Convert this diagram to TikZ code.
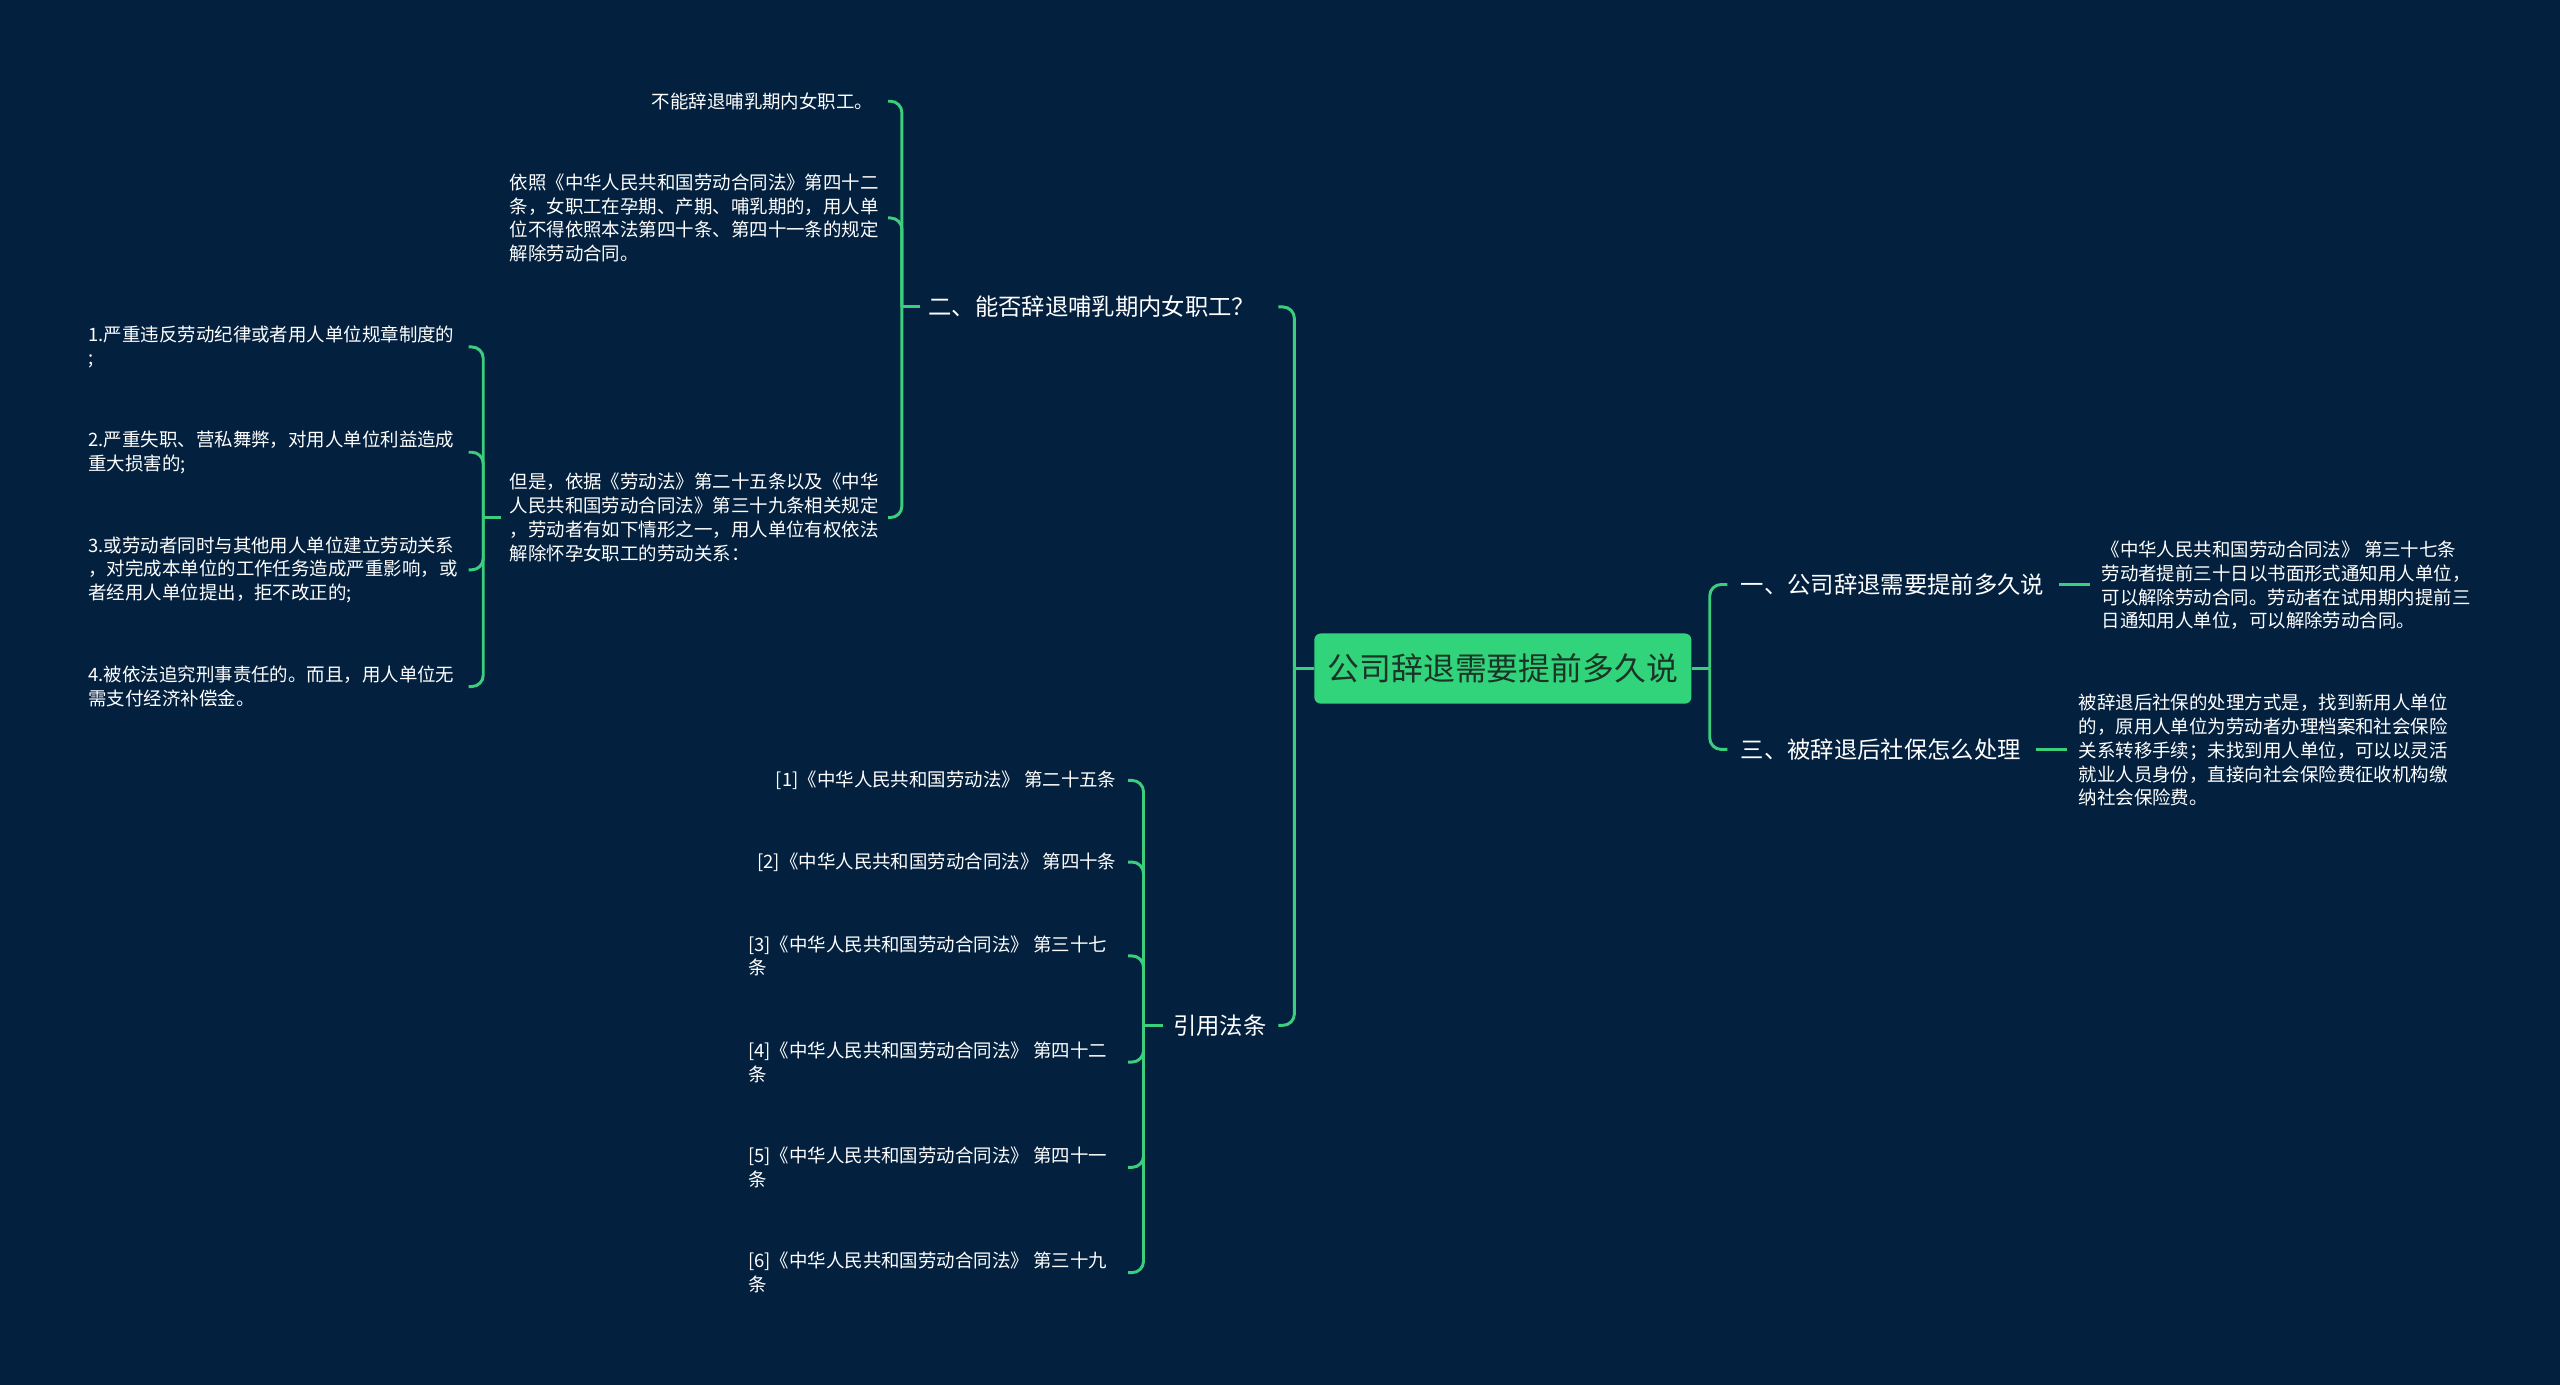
\documentclass[tikz,border=0pt]{standalone}
\usepackage{fontspec}
\setmainfont{Noto Sans CJK SC}
\definecolor{bg}{HTML}{03213F}
\definecolor{ln}{HTML}{3BCF7D}
\definecolor{rootfill}{HTML}{31D47A}
\definecolor{roottext}{HTML}{1C3328}
\begin{document}
\begin{tikzpicture}[x=1pt,y=-1pt,
  conn/.style={draw=ln, line width=1.8pt, rounded corners=7pt},
  leaf/.style={text=white, font=\fontsize{11.3}{14.6}\selectfont, inner sep=0pt, align=left},
  lvl/.style={text=white, font=\fontsize{14.3}{17}\selectfont, inner sep=0pt},
  rootbox/.style={fill=rootfill, rounded corners=4pt, text=roottext, font=\fontsize{19.5}{22}\selectfont, minimum width=231pt, minimum height=43pt, inner sep=0pt}]
\fill[bg] (0,0) rectangle (1568,848);
\useasboundingbox (0,0) rectangle (1568,848);

% root
\node[rootbox] (root) at (920.5,409.5) {公司辞退需要提前多久说};

% level 1
\node[lvl, anchor=west] (b1) at (1066,358) {一、公司辞退需要提前多久说};
\node[lvl, anchor=west] (b3) at (1066,459) {三、被辞退后社保怎么处理};
\node[lvl, anchor=east] (b2) at (769,188) {二、能否辞退哺乳期内女职工？};
\node[lvl, anchor=east] (b4) at (776,628) {引用法条};

% right paragraphs
\node[leaf, anchor=west] (p1) at (1287,358.5) {《中华人民共和国劳动合同法》 第三十七条\\劳动者提前三十日以书面形式通知用人单位，\\可以解除劳动合同。劳动者在试用期内提前三\\日通知用人单位，可以解除劳动合同。};
\node[leaf, anchor=west] (p3) at (1273,459.5) {被辞退后社保的处理方式是，找到新用人单位\\的，原用人单位为劳动者办理档案和社会保险\\关系转移手续；未找到用人单位，可以以灵活\\就业人员身份，直接向社会保险费征收机构缴\\纳社会保险费。};

% branch 二
\node[leaf, anchor=east] (a1) at (535,62) {不能辞退哺乳期内女职工。};
\node[leaf, anchor=west] (a2) at (312,133.5) {依照《中华人民共和国劳动合同法》第四十二\\条，女职工在孕期、产期、哺乳期的，用人单\\位不得依照本法第四十条、第四十一条的规定\\解除劳动合同。};
\node[leaf, anchor=west] (a3) at (312,317) {但是，依据《劳动法》第二十五条以及《中华\\人民共和国劳动合同法》第三十九条相关规定\\，劳动者有如下情形之一，用人单位有权依法\\解除怀孕女职工的劳动关系：};

\node[leaf, anchor=west] (c1) at (54,212.5) {1.严重违反劳动纪律或者用人单位规章制度的\\;};
\node[leaf, anchor=west] (c2) at (54,277) {2.严重失职、营私舞弊，对用人单位利益造成\\重大损害的;};
\node[leaf, anchor=west] (c3) at (54,349) {3.或劳动者同时与其他用人单位建立劳动关系\\，对完成本单位的工作任务造成严重影响，或\\者经用人单位提出，拒不改正的;};
\node[leaf, anchor=west] (c4) at (54,420.5) {4.被依法追究刑事责任的。而且，用人单位无\\需支付经济补偿金。};

% branch 引用法条
\node[leaf, anchor=east] (r1) at (684,478) {[1]《中华人民共和国劳动法》 第二十五条};
\node[leaf, anchor=east] (r2) at (684,528) {[2]《中华人民共和国劳动合同法》 第四十条};
\node[leaf, anchor=west] (r3) at (458,585.5) {[3]《中华人民共和国劳动合同法》 第三十七\\条};
\node[leaf, anchor=west] (r4) at (458,650.5) {[4]《中华人民共和国劳动合同法》 第四十二\\条};
\node[leaf, anchor=west] (r5) at (458,715) {[5]《中华人民共和国劳动合同法》 第四十一\\条};
\node[leaf, anchor=west] (r6) at (458,779.5) {[6]《中华人民共和国劳动合同法》 第三十九\\条};

% end x of child connectors
\coordinate (eC) at (544,0);
\coordinate (eD) at (287,0);
\coordinate (eE) at (691,0);

% root connectors
\draw[conn] (root.west) -- ++(-12,0) coordinate (sA);
\draw[conn] (sA) |- ([xshift=14pt]b2.east);
\draw[conn] (sA) |- ([xshift=7pt]b4.east);
\draw[conn] (root.east) -- ++(11,0) coordinate (sB);
\draw[conn] (sB) |- ([xshift=-8pt]b1.west);
\draw[conn] (sB) |- ([xshift=-8pt]b3.west);

% right leaves
\draw[conn] ([xshift=9pt]b1.east) -- ([xshift=-7pt]p1.west |- b1.east);
\draw[conn] ([xshift=9pt]b3.east) -- ([xshift=-7pt]p3.west |- b3.east);

% branch 二
\draw[conn] ([xshift=-5pt]b2.west) -- ++(-11,0) coordinate (sC);
\draw[conn] (sC) |- (a1.east -| eC);
\draw[conn] (sC) |- (a2.east -| eC);
\draw[conn] (sC) |- (a3.east -| eC);

% 但是 subtree
\draw[conn] ([xshift=-5pt]a3.west) -- ++(-11,0) coordinate (sD);
\draw[conn] (sD) |- (c1.east -| eD);
\draw[conn] (sD) |- (c2.east -| eD);
\draw[conn] (sD) |- (c3.east -| eD);
\draw[conn] (sD) |- (c4.east -| eD);

% 引用法条 subtree
\draw[conn] ([xshift=-6pt]b4.west) -- ++(-12,0) coordinate (sE);
\draw[conn] (sE) |- (r1.east -| eE);
\draw[conn] (sE) |- (r2.east -| eE);
\draw[conn] (sE) |- (r3.east -| eE);
\draw[conn] (sE) |- (r4.east -| eE);
\draw[conn] (sE) |- (r5.east -| eE);
\draw[conn] (sE) |- (r6.east -| eE);
\end{tikzpicture}
\end{document}
